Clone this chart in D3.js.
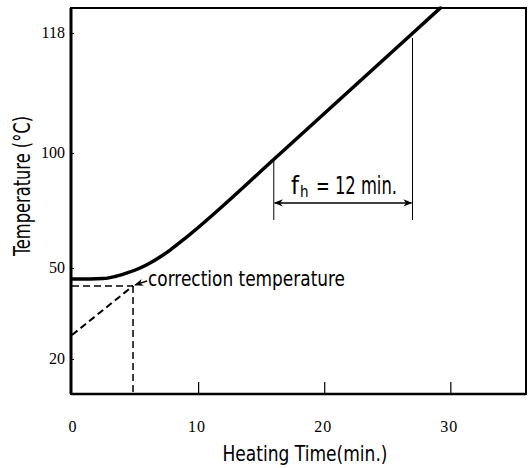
<!DOCTYPE html>
<html>
<head>
<meta charset="utf-8">
<script src="https://cdn.jsdelivr.net/npm/d3@7"></script>
<style>
  html, body { margin: 0; padding: 0; background: #fff; }
  svg { display: block; }
</style>
</head>
<body>
<svg id="chart" width="528" height="468"></svg>
<script>
// ---- data ----
const heatTime = [0, 1.43, 2.46, 3.41, 4.37, 5.40, 6.19, 6.98, 7.78, 8.97, 16.56, 27.03, 29.2];
const heatTemp = [46.4, 46.4, 46.5, 47.2, 48.4, 50.0, 52.2, 54.8, 57.8, 62.9, 100, 118, 121.75];

const xTickValues = [0, 10, 20, 30];
const xTickLabels = ["0", "10", "20", "30"];
const yTickValues = [20, 50, 100, 118];
const yTickLabels = ["20", "50", "100", "118"];

// correction construction (time, temperature)
const corrTime = 4.84;
const corrTemp = 44.1;
const extrapTime = [0, 4.84];
const extrapTemp = [27.9, 44.1];
const corrArrowTail = [5.95, 45.7];
const corrLabel = "correction temperature";

// f_h construction
const fhTime = [16, 27];
const fhTopTemp = [97.3, 117.25];
const fhBottomTemp = 70.9;
const fhArrowTemp = 78.3;
const fhLabelMain = "f";
const fhLabelSub = "h";
const fhLabelRest = "= 12 min.";

const xTitle = "Heating Time(min.)";
const yTitle = "Temperature (\u00B0C)";

// ---- layout ----
const svg = d3.select("#chart");
const L = 71, R = 526, T = 8, B = 394;
const condensed = "'Liberation Sans Narrow', 'DejaVu Sans Condensed', 'Arial Narrow', sans-serif";
const serif = "'Liberation Serif', 'DejaVu Serif', serif";

const x = d3.scaleLinear().domain([0, 36]).range([72, R]);
// non-uniform printed temperature axis (piecewise)
const y = d3.scaleLinear().domain(yTickValues).range([359, 268, 153, 33]);

// defs: arrowheads
const defs = svg.append("defs");
function marker(id, orient) {
  defs.append("marker")
    .attr("id", id)
    .attr("viewBox", "0 0 10 10")
    .attr("refX", 9).attr("refY", 5)
    .attr("markerWidth", 9).attr("markerHeight", 9)
    .attr("markerUnits", "userSpaceOnUse")
    .attr("orient", orient)
    .append("path")
    .attr("d", "M0,1 L10,5 L0,9 L3,5 Z")
    .attr("fill", "#000");
}
marker("arrowEnd", "auto");
marker("arrowStart", "auto-start-reverse");

// frame
svg.append("rect")
  .attr("x", L).attr("y", T).attr("width", R - L).attr("height", B - T)
  .attr("fill", "none").attr("stroke", "#000").attr("stroke-width", 2);
svg.append("line").attr("x1", L).attr("x2", L).attr("y1", T).attr("y2", B)
  .attr("stroke", "#000").attr("stroke-width", 3);
svg.append("line").attr("x1", L).attr("x2", R).attr("y1", B).attr("y2", B)
  .attr("stroke", "#000").attr("stroke-width", 2.5);

// x axis ticks (inward) and labels
const xAxis = d3.axisBottom(x).tickValues(xTickValues.filter(v => v > 0))
  .tickSize(-12).tickFormat("");
const gx = svg.append("g").attr("transform", `translate(0,${B})`).call(xAxis);
gx.select(".domain").remove();
gx.selectAll(".tick line").attr("stroke", "#000").attr("stroke-width", 1.2);

svg.append("g").selectAll("text").data(xTickValues).join("text")
  .attr("x", (d) => x(d) + (d === 0 ? 1 : -1))
  .attr("y", 432)
  .attr("text-anchor", "middle")
  .attr("font-family", serif).attr("font-size", 16)
  .attr("letter-spacing", 1)
  .text((d, i) => xTickLabels[i]);

// y axis ticks (inward, tiny) and labels
const yAxis = d3.axisLeft(y).tickValues(yTickValues).tickSize(-3).tickFormat("");
const gy = svg.append("g").attr("transform", `translate(${L},0)`).call(yAxis);
gy.select(".domain").remove();
gy.selectAll(".tick line").attr("stroke", "#000").attr("stroke-width", 1);

svg.append("g").selectAll("text").data(yTickValues).join("text")
  .attr("x", 65)
  .attr("y", d => y(d) + 5)
  .attr("text-anchor", "end")
  .attr("font-family", serif).attr("font-size", 16)
  .text((d, i) => yTickLabels[i]);

// heating curve
const pts = heatTime.map((t, i) => [t, heatTemp[i]]);
svg.append("path")
  .datum(pts)
  .attr("d", d3.line().x(d => x(d[0])).y(d => y(d[1])).curve(d3.curveMonotoneX))
  .attr("fill", "none").attr("stroke", "#000").attr("stroke-width", 3.5)
  .attr("stroke-linecap", "round");

// dashed construction
const dash = "7,4";
svg.append("line")
  .attr("x1", x(0)).attr("y1", y(corrTemp)).attr("x2", x(corrTime)).attr("y2", y(corrTemp))
  .attr("stroke", "#000").attr("stroke-width", 1.5).attr("stroke-dasharray", dash);
svg.append("line")
  .attr("x1", x(extrapTime[0])).attr("y1", y(extrapTemp[0]))
  .attr("x2", x(extrapTime[1])).attr("y2", y(extrapTemp[1]))
  .attr("stroke", "#000").attr("stroke-width", 2).attr("stroke-dasharray", dash);
svg.append("line")
  .attr("x1", x(corrTime)).attr("y1", y(corrTemp)).attr("x2", x(corrTime)).attr("y2", B)
  .attr("stroke", "#000").attr("stroke-width", 1.5).attr("stroke-dasharray", dash);

// correction arrow + label
svg.append("line")
  .attr("x1", x(corrArrowTail[0])).attr("y1", y(corrArrowTail[1]))
  .attr("x2", x(corrTime) + 2).attr("y2", y(corrTemp) - 1)
  .attr("stroke", "#000").attr("stroke-width", 1.5)
  .attr("marker-end", "url(#arrowEnd)");
svg.append("text")
  .attr("x", x(corrArrowTail[0]) + 1).attr("y", y(corrTemp) + 0)
  .attr("font-family", condensed).attr("font-size", 22)
  .attr("textLength", 197).attr("lengthAdjust", "spacingAndGlyphs")
  .text(corrLabel);

// f_h construction lines
fhTime.forEach((t, i) => {
  svg.append("line")
    .attr("x1", x(t)).attr("x2", x(t))
    .attr("y1", y(fhTopTemp[i])).attr("y2", y(fhBottomTemp))
    .attr("stroke", "#000").attr("stroke-width", 1);
});
svg.append("line")
  .attr("x1", x(fhTime[0]) + 1).attr("x2", x(fhTime[1]) - 1)
  .attr("y1", y(fhArrowTemp)).attr("y2", y(fhArrowTemp))
  .attr("stroke", "#000").attr("stroke-width", 1.5)
  .attr("marker-start", "url(#arrowStart)")
  .attr("marker-end", "url(#arrowEnd)");
const fhBase = y(fhArrowTemp) - 9;
svg.append("text")
  .attr("x", 291).attr("y", fhBase)
  .attr("font-family", condensed).attr("font-size", 25)
  .text(fhLabelMain);
svg.append("text")
  .attr("x", 300).attr("y", fhBase + 3)
  .attr("font-family", condensed).attr("font-size", 15)
  .text(fhLabelSub);
svg.append("text")
  .attr("x", 316).attr("y", fhBase)
  .attr("font-family", condensed).attr("font-size", 25)
  .attr("textLength", 81).attr("lengthAdjust", "spacingAndGlyphs")
  .text(fhLabelRest);

// axis titles
svg.append("text")
  .attr("x", 305).attr("y", 461)
  .attr("text-anchor", "middle")
  .attr("font-family", condensed).attr("font-size", 22)
  .attr("textLength", 165).attr("lengthAdjust", "spacingAndGlyphs")
  .text(xTitle);
svg.append("text")
  .attr("transform", "translate(30,186) rotate(-90)")
  .attr("text-anchor", "middle")
  .attr("font-family", condensed).attr("font-size", 23)
  .attr("textLength", 140).attr("lengthAdjust", "spacingAndGlyphs")
  .text(yTitle);
</script>
</body>
</html>
